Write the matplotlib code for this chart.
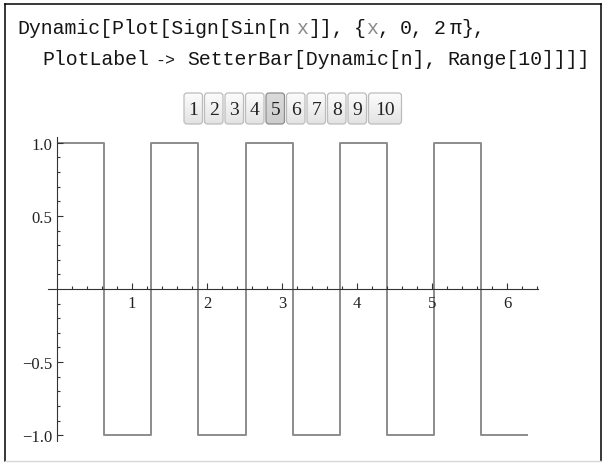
import numpy as np
import matplotlib
matplotlib.use("Agg")
import matplotlib.pyplot as plt
from matplotlib.patches import FancyBboxPatch
from matplotlib.ticker import FixedLocator, FuncFormatter

# ---------------- data ----------------
edges = [0.0, 0.628, 1.257, 1.885, 2.513, 3.142, 3.770, 4.398, 5.027, 5.655, 6.283]
levels = [1, -1, 1, -1, 1, -1, 1, -1, 1, -1]
x_major = [1, 2, 3, 4, 5, 6]
x_minor = [0.2, 0.4, 0.6, 0.8, 1.2, 1.4, 1.6, 1.8, 2.2, 2.4, 2.6, 2.8,
           3.2, 3.4, 3.6, 3.8, 4.2, 4.4, 4.6, 4.8, 5.2, 5.4, 5.6, 5.8, 6.2, 6.4]
y_major = [-1.0, -0.5, 0.5, 1.0]
y_minor = [-0.9, -0.8, -0.7, -0.6, -0.4, -0.3, -0.2, -0.1,
           0.1, 0.2, 0.3, 0.4, 0.6, 0.7, 0.8, 0.9]
button_labels = ["1", "2", "3", "4", "5", "6", "7", "8", "9", "10"]
selected = "5"
x_range = (0.0, 6.283)
y_range = (-1.0, 1.0)

W, H = 604, 464
fig = plt.figure(figsize=(W / 100, H / 100), dpi=100)

# ---------------- overlay (pixel coordinates) ----------------
ov = fig.add_axes([0, 0, 1, 1], zorder=0)
ov.set_xlim(0, W)
ov.set_ylim(H, 0)
ov.axis("off")

# frame
ov.plot([5, 5], [5, 462], color="black", lw=1.1, solid_capstyle="projecting")
ov.plot([5, 601], [5, 5], color="black", lw=1.1, solid_capstyle="projecting")
ov.plot([601, 601], [5, 462], color="black", lw=1.1, solid_capstyle="projecting")
ov.plot([5, 601], [462, 462], color="#d8d8d8", lw=1.0)

# code text
mono = "Liberation Mono"
fs = 14.3
dark = "#151515"
gray = "#8a8a8a"


def draw_tokens(tokens, x0, yb):
    x = x0
    for text, color, gap, size in tokens:
        x += gap
        s = fs if size is None else size
        ov.text(x, yb, text, family=mono, fontsize=s, color=color,
                ha="left", va="baseline")
        x += len(text) * 0.6 * s * 100 / 72.0


line1 = [("Dynamic[Plot[Sign[Sin[n", dark, 0, None),
         ("x", gray, 5, None),
         ("]],", dark, 0, None),
         ("{", dark, 10, None),
         ("x", gray, 0, None),
         (",", dark, 0, None),
         ("0,", dark, 10, None),
         ("2", dark, 10, None),
         ("\u03c0", dark, 4, None),
         ("},", dark, 0, None)]
line2 = [("PlotLabel", dark, 0, None),
         ("->", dark, 6, 12),
         ("SetterBar[Dynamic[n],", dark, 12, None),
         ("Range[10]]]]", dark, 10, None)]
draw_tokens(line1, 17, 34)
draw_tokens(line2, 42, 65)

# setter bar
bx0, pitch, bw, bw10 = 184.0, 20.5, 18.5, 33.0
btop, bbot = 94.0, 125.0
grad = np.linspace(0, 1, 64).reshape(-1, 1)
for i, lab in enumerate(button_labels):
    left = bx0 + i * pitch
    w = bw10 if len(lab) > 1 else bw
    sel = lab == selected
    c_top, c_bot = ((0.86, 0.86, 0.86), (0.80, 0.80, 0.80)) if sel else ((0.99, 0.99, 0.99), (0.89, 0.89, 0.89))
    edge = "#8c8c8c" if sel else "#bcbcbc"
    patch = FancyBboxPatch((left, btop), w, bbot - btop,
                           boxstyle="round,pad=0,rounding_size=3",
                           facecolor="none", edgecolor=edge, lw=0.9, zorder=3)
    ov.add_patch(patch)
    img = np.zeros((64, 1, 3))
    for k in range(3):
        img[:, 0, k] = c_top[k] + (c_bot[k] - c_top[k]) * grad[:, 0]
    im = ov.imshow(img, extent=(left, left + w, bbot, btop), aspect="auto",
                   zorder=2, interpolation="bilinear")
    im.set_clip_path(patch)
    ov.text(left + w / 2, (btop + bbot) / 2 + 1, lab, family="Liberation Serif",
            fontsize=14, color="#222222", ha="center", va="center", zorder=4)
ov.set_xlim(0, W)
ov.set_ylim(H, 0)

# ---------------- plot ----------------
px_left, px_right, px_top, px_bot = 47.6, 537.7, 138.0, 442.0
ax = fig.add_axes([px_left / W, (H - px_bot) / H, (px_right - px_left) / W, (px_bot - px_top) / H], zorder=1)
ax.patch.set_alpha(0)
xpad = 0.02 * (x_range[1] - x_range[0])
ypad = 0.02 * (y_range[1] - y_range[0])
ax.set_xlim(x_range[0] - xpad, x_range[1] + xpad)
ax.set_ylim(y_range[0] - ypad, y_range[1] + ypad)

ax.stairs(levels, edges, baseline=None, color="#8c8c8c", lw=1.4, joinstyle="round")

for s in ["top", "right"]:
    ax.spines[s].set_visible(False)
for s in ["left", "bottom"]:
    ax.spines[s].set_position(("data", 0))
    ax.spines[s].set_color("#333333")
    ax.spines[s].set_linewidth(0.8)

ax.xaxis.set_major_locator(FixedLocator(x_major))
ax.xaxis.set_minor_locator(FixedLocator(x_minor))
ax.yaxis.set_major_locator(FixedLocator(y_major))
ax.yaxis.set_minor_locator(FixedLocator(y_minor))
ax.xaxis.set_major_formatter(FuncFormatter(lambda v, p: "%d" % round(v)))
ax.yaxis.set_major_formatter(FuncFormatter(lambda v, p: ("%.1f" % v).replace("-", "\u2212")))

ax.tick_params(which="both", direction="in", color="#333333", width=0.8)
ax.tick_params(which="major", length=4.3)
ax.tick_params(which="minor", length=2.5)
ax.tick_params(axis="x", which="major", pad=4.5)
ax.tick_params(axis="y", which="major", pad=3.5)
for lab in ax.get_xticklabels() + ax.get_yticklabels():
    lab.set_family("Liberation Serif")
    lab.set_fontsize(12)
    lab.set_color("#222222")

fig.savefig("out.png", dpi=100)
